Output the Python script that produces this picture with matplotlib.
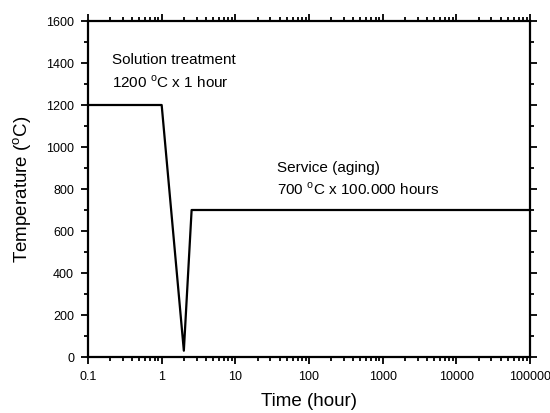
import matplotlib
matplotlib.use("Agg")
import matplotlib.pyplot as plt
from matplotlib.ticker import LogLocator, FixedLocator, MultipleLocator, NullFormatter

plt.rcParams['font.family'] = ['Liberation Sans', 'DejaVu Sans']

time_h = [0.1, 1.0, 2.0, 2.55, 100000]
temp_c = [1200, 1200, 30, 700, 700]
x_ticks = [0.1, 1, 10, 100, 1000, 10000, 100000]
x_tick_labels = ["0.1", "1", "10", "100", "1000", "10000", "100000"]
y_ticks = [0, 200, 400, 600, 800, 1000, 1200, 1400, 1600]

fig = plt.figure(figsize=(5.5, 4.13), dpi=100)
ax = fig.add_axes([88/550, 1-357/413, (530-88)/550, (357-21)/413])
ax.plot(time_h, temp_c, color='black', lw=1.6)
ax.set_xscale('log')
ax.set_xlim(0.1, 100000)
ax.set_ylim(0, 1600)
ax.xaxis.set_major_locator(FixedLocator(x_ticks))
ax.set_xticklabels(x_tick_labels)
ax.xaxis.set_minor_locator(LogLocator(base=10, subs=range(2, 10), numticks=20))
ax.xaxis.set_minor_formatter(NullFormatter())
ax.set_yticks(y_ticks)
ax.yaxis.set_minor_locator(MultipleLocator(100))
for s in ax.spines.values():
    s.set_linewidth(1.6)
ax.tick_params(which='both', direction='out', top=True, right=True, labeltop=False, labelright=False,
               width=1.3, labelsize=9)
ax.tick_params(which='major', length=5, pad=5)
ax.tick_params(which='minor', length=3)
ax.set_xlabel("Time (hour)", fontsize=13.5, labelpad=7)
ax.set_ylabel("Temperature ($^{\\mathregular{o}}$C)", fontsize=13.5, labelpad=9)
ax.text(0.21, 1415, "Solution treatment", fontsize=11, va='center')
ax.text(0.21, 1310, "1200 $^{\\mathregular{o}}$C x 1 hour", fontsize=11, va='center')
ax.text(37, 900, "Service (aging)", fontsize=11, va='center')
ax.text(37, 800, "700 $^{\\mathregular{o}}$C x 100.000 hours", fontsize=11, va='center')
fig.savefig("out.png", dpi=100)
